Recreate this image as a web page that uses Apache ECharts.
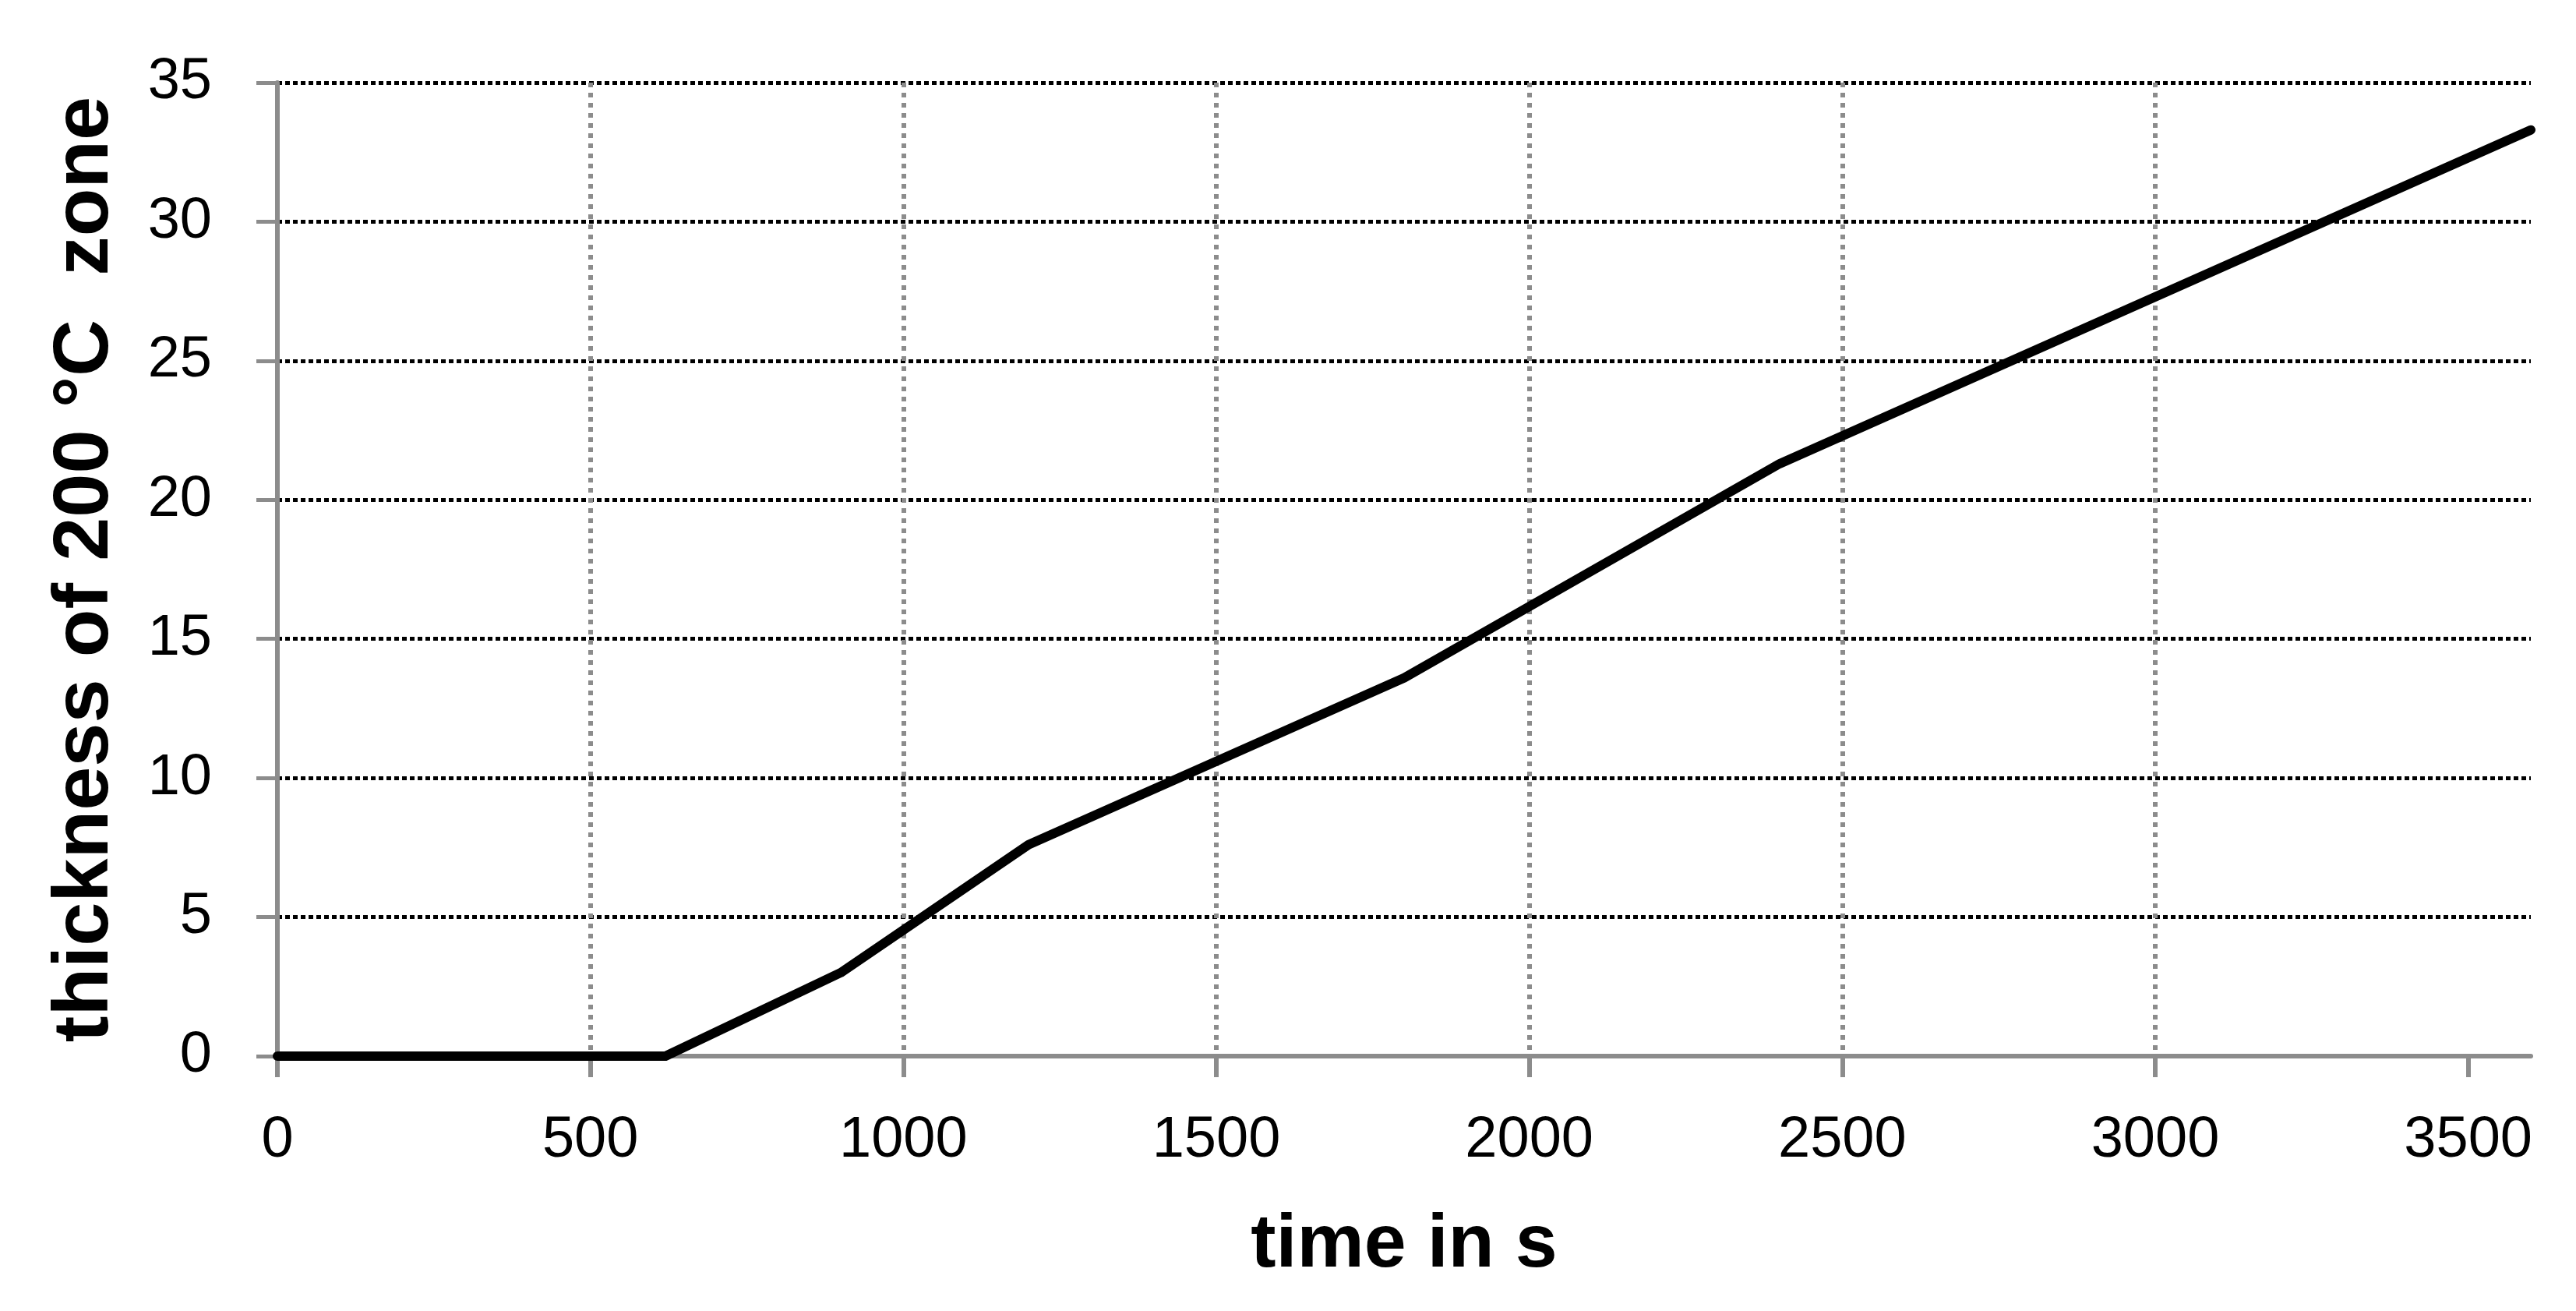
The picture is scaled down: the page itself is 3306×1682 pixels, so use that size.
<!DOCTYPE html>
<html>
<head>
<meta charset="utf-8">
<script src="https://cdn.jsdelivr.net/npm/echarts@6/dist/echarts.min.js"></script>
<style>
  html, body { margin: 0; padding: 0; background: #fff; }
  #chart { width: 3306px; height: 1682px; }
</style>
</head>
<body>
<div id="chart"></div>
<script>
// time in s and thickness of the 200 °C zone
var times = [0, 620, 900, 1200, 1800, 2400, 3600];
var thickness = [0, 0, 3.0, 7.6, 13.6, 21.3, 33.3];
var xTicks = [0, 500, 1000, 1500, 2000, 2500, 3000, 3500];
var yTicks = [0, 5, 10, 15, 20, 25, 30, 35];

var points = [];
for (var i = 0; i < times.length; i++) {
    points.push([times[i], thickness[i]]);
}

var myChart = echarts.init(document.getElementById('chart'));

myChart.setOption({
    animation: false,
    backgroundColor: '#fff',
    grid: {
        left: 356,
        right: 58,
        top: 106,
        bottom: 327
    },
    xAxis: {
        type: 'value',
        min: 0,
        max: 3600,
        interval: 500,
        name: 'time in s',
        nameLocation: 'middle',
        nameGap: 195,
        nameTextStyle: {
            fontFamily: 'Liberation Sans',
            fontWeight: 'bold',
            fontSize: 97,
            color: '#000'
        },
        axisLine: { lineStyle: { color: '#8c8c8c', width: 6 } },
        axisTick: {
            show: true,
            length: 27,
            customValues: xTicks,
            lineStyle: { color: '#8c8c8c', width: 6 }
        },
        axisLabel: {
            customValues: xTicks,
            margin: 72,
            fontFamily: 'Liberation Sans',
            fontSize: 74,
            color: '#000',
            formatter: function (v) { return String(v); }
        },
        splitLine: {
            show: true,
            showMinLine: false,
            showMaxLine: false,
            lineStyle: { color: '#8c8c8c', width: 6, type: [6, 7] }
        }
    },
    yAxis: {
        type: 'value',
        min: 0,
        max: 35,
        interval: 5,
        name: 'thickness of 200 °C  zone',
        nameLocation: 'middle',
        nameGap: 195,
        nameTextStyle: {
            fontFamily: 'Liberation Sans',
            fontWeight: 'bold',
            fontSize: 101,
            color: '#000'
        },
        axisLine: { show: true, lineStyle: { color: '#8c8c8c', width: 6 } },
        axisTick: {
            show: true,
            length: 27,
            customValues: yTicks,
            lineStyle: { color: '#8c8c8c', width: 5 }
        },
        axisLabel: {
            customValues: yTicks,
            margin: 84,
            fontFamily: 'Liberation Sans',
            fontSize: 74,
            color: '#000',
            formatter: function (v) { return String(v); }
        },
        splitLine: {
            show: true,
            showMinLine: false,
            lineStyle: { color: '#000', width: 5, type: [6, 4] }
        }
    },
    series: [
        {
            type: 'line',
            data: points,
            showSymbol: false,
            symbol: 'none',
            lineStyle: { color: '#000', width: 12, cap: 'round', join: 'round' },
            z: 3
        }
    ]
});
</script>
</body>
</html>
